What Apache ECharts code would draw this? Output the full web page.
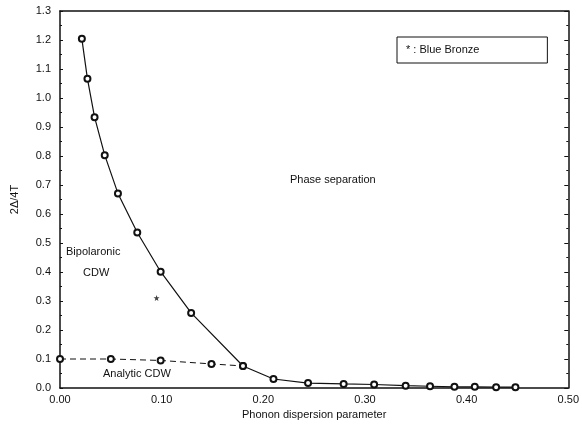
<!DOCTYPE html>
<html>
<head>
<meta charset="utf-8">
<script src="https://cdn.jsdelivr.net/npm/echarts@6/dist/echarts.min.js"></script>
<style>
  html, body { margin: 0; padding: 0; background: #fff; }
  #chart { width: 582px; height: 428px; }
</style>
</head>
<body>
<div id="chart"></div>
<script>
// Gap ratio versus phonon dispersion parameter
const bipolaronX = [0.0215, 0.027, 0.034, 0.044, 0.057, 0.076, 0.099, 0.129, 0.180, 0.210, 0.244, 0.279, 0.309, 0.340, 0.364, 0.388, 0.408, 0.429, 0.448];
const bipolaronY = [1.204, 1.066, 0.934, 0.803, 0.671, 0.536, 0.401, 0.259, 0.076, 0.031, 0.017, 0.014, 0.012, 0.008, 0.006, 0.004, 0.004, 0.003, 0.003];

const analyticX = [0.000, 0.050, 0.099, 0.149, 0.180];
const analyticY = [0.100, 0.100, 0.095, 0.083, 0.076];

const blueBronzeX = [0.095];
const blueBronzeY = [0.31];

const xTicks = [0.0, 0.1, 0.2, 0.3, 0.4, 0.5];
const yTicks = [0.0, 0.1, 0.2, 0.3, 0.4, 0.5, 0.6, 0.7, 0.8, 0.9, 1.0, 1.1, 1.2, 1.3];

const pairs = (xs, ys) => xs.map((x, i) => [x, ys[i]]);

const FONT = '"Liberation Sans", Arial, sans-serif';
const INK = '#111';

const chart = echarts.init(document.getElementById('chart'), null, { renderer: 'canvas' });

chart.setOption({
  animation: false,
  backgroundColor: '#fff',
  textStyle: { fontFamily: FONT, color: INK },
  grid: { left: 60, right: 12, top: 11, bottom: 40 },
  xAxis: [
    {
      type: 'value',
      min: xTicks[0],
      max: xTicks[xTicks.length - 1],
      interval: 0.1,
      name: 'Phonon dispersion parameter',
      nameLocation: 'middle',
      nameGap: 19,
      nameTextStyle: { fontSize: 11, color: INK, fontFamily: FONT },
      axisLine: { onZero: false, lineStyle: { color: INK, width: 1.5 } },
      axisTick: { show: false },
      splitLine: { show: false },
      axisLabel: {
        fontSize: 11, color: INK, fontFamily: FONT, margin: 6,
        formatter: v => v.toFixed(2)
      }
    },
    {
      type: 'value',
      position: 'top',
      min: xTicks[0],
      max: xTicks[xTicks.length - 1],
      interval: 0.1,
      axisLine: { show: true, onZero: false, lineStyle: { color: INK, width: 1.5 } },
      axisTick: { show: false },
      axisLabel: { show: false },
      splitLine: { show: false }
    }
  ],
  yAxis: [
    {
      type: 'value',
      min: yTicks[0],
      max: yTicks[yTicks.length - 1],
      interval: 0.1,
      name: '2Δ/4T',
      nameLocation: 'middle',
      nameGap: 40,
      nameTextStyle: { fontSize: 11, color: INK, fontFamily: FONT },
      axisLine: { onZero: false, lineStyle: { color: INK, width: 1.5 } },
      axisTick: { show: true, inside: true, length: 3, lineStyle: { color: INK, width: 1 } },
      minorTick: { show: true, splitNumber: 2, length: 2, lineStyle: { color: INK, width: 1 } },
      splitLine: { show: false },
      axisLabel: {
        fontSize: 11, color: INK, fontFamily: FONT, margin: 9,
        formatter: v => v.toFixed(1)
      }
    },
    {
      type: 'value',
      position: 'right',
      min: yTicks[0],
      max: yTicks[yTicks.length - 1],
      interval: 0.1,
      axisLine: { show: true, onZero: false, lineStyle: { color: INK, width: 1.5 } },
      axisTick: { show: true, inside: true, length: 4, lineStyle: { color: INK, width: 1 } },
      minorTick: { show: true, splitNumber: 2, length: 2, lineStyle: { color: INK, width: 1 } },
      axisLabel: { show: false },
      splitLine: { show: false }
    }
  ],
  legend: {
    show: true,
    left: 397,
    top: 37,
    data: [{ name: 'Blue Bronze', icon: 'none' }],
    formatter: name => '* : ' + name,
    itemWidth: 0,
    itemHeight: 0,
    itemGap: 0,
    padding: [7, 68, 8, 4],
    borderColor: INK,
    borderWidth: 1,
    textStyle: { fontSize: 11, color: INK, fontFamily: FONT },
    selectedMode: false
  },
  series: [
    {
      name: 'Bipolaronic CDW boundary',
      type: 'line',
      data: pairs(bipolaronX, bipolaronY),
      lineStyle: { color: INK, width: 1.2 },
      symbol: 'emptyCircle',
      symbolSize: 6,
      itemStyle: { color: INK, borderColor: INK, borderWidth: 1.2 },
      z: 3
    },
    {
      name: 'Analytic CDW boundary',
      type: 'line',
      data: pairs(analyticX, analyticY),
      lineStyle: { color: INK, width: 1, type: [6, 4] },
      symbol: 'emptyCircle',
      symbolSize: 6,
      itemStyle: { color: INK, borderColor: INK, borderWidth: 1 },
      z: 2
    },
    {
      name: 'Blue Bronze',
      type: 'scatter',
      data: pairs(blueBronzeX, blueBronzeY),
      symbol: 'path://M0,-5 L1.2,-1.6 L4.8,-1.6 L1.9,0.6 L3,4 L0,2 L-3,4 L-1.9,0.6 L-4.8,-1.6 L-1.2,-1.6 Z',
      symbolSize: 6,
      itemStyle: { color: INK },
      z: 4
    }
  ],
  graphic: [
    { type: 'text', left: 290, top: 174, style: { text: 'Phase separation', fontSize: 11, fontFamily: FONT, fill: INK } },
    { type: 'text', left: 66, top: 246, style: { text: 'Bipolaronic', fontSize: 11, fontFamily: FONT, fill: INK } },
    { type: 'text', left: 83, top: 267, style: { text: 'CDW', fontSize: 11, fontFamily: FONT, fill: INK } },
    { type: 'text', left: 103, top: 368, style: { text: 'Analytic CDW', fontSize: 11, fontFamily: FONT, fill: INK } }
  ]
});
</script>
</body>
</html>
